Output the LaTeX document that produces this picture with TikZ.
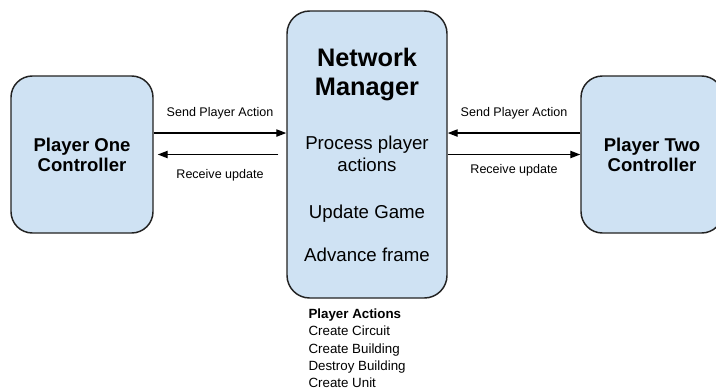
\documentclass[tikz,border=0pt]{standalone}
\usepackage{fontspec}
\setmainfont{Liberation Sans}
\usetikzlibrary{arrows.meta, positioning}
\definecolor{boxfill}{HTML}{CFE2F3}
\definecolor{edge}{HTML}{222222}

\begin{document}
\begin{tikzpicture}[x=0.75pt, y=-0.75pt]
  \tikzset{
    ctrl/.style={draw=edge, fill=boxfill, line width=1.1pt, rounded corners=16pt, minimum width=106.5pt, minimum height=117.75pt, inner sep=0pt, align=center, font=\fontsize{13.9}{15}\selectfont\bfseries},
    hub/.style={draw=edge, fill=boxfill, line width=1.1pt, rounded corners=17pt, minimum width=120pt, minimum height=215.25pt, inner sep=0pt},
    headtxt/.style={align=center, inner sep=0pt, font=\fontsize{19}{21.4}\selectfont\bfseries},
    mgrtxt/.style={align=center, inner sep=0pt, font=\fontsize{14}{16.5}\selectfont},
    lbl/.style={inner sep=0pt, font=\fontsize{9.4}{11}\selectfont},
    note/.style={align=left, inner sep=0pt, font=\fontsize{10}{12.9}\selectfont},
    flow/.style={draw=black, line width=1pt, -{Triangle[length=7.5pt, width=5.5pt]}}
  }
  \useasboundingbox (0,0) rectangle (716,389);
  \node[ctrl] (p1) at (82,154.5) {Player One\\Controller};
  \node[hub] (mgr) at (367,154.5) {};
  \node[ctrl] (p2) at (652,154.5) {Player Two\\Controller};
  % text inside the manager box
  \node[headtxt] (ttl) at (367,74.5) {Network\\Manager};
  \node[mgrtxt] (proc) at (367,154.3) {Process player\\actions};
  \node[mgrtxt] (upd) at (367,213.2) {Update Game};
  \node[mgrtxt] (adv) at (367,255.2) {Advance frame};
  % messages
  \draw[flow] ([yshift=16.1pt]p1.east) -- ([yshift=16.1pt]mgr.west)
    node[lbl, midway, above=10pt] {Send Player Action};
  \draw[flow, shorten <=6pt, shorten >=3pt] (mgr.west) -- (p1.east)
    node[lbl, midway, below=10.5pt] {Receive update};
  \draw[flow] ([yshift=16.1pt]p2.west) -- ([yshift=16.1pt]mgr.east)
    node[lbl, midway, above=10pt] {Send Player Action};
  \draw[flow] (mgr.east) -- (p2.west)
    node[lbl, midway, below=6.75pt] {Receive update};
  \node[note, below right=7.5pt and 16.5pt of mgr.south west] (acts) {\textbf{Player Actions}\\Create Circuit\\Create Building\\Destroy Building\\Create Unit};
\end{tikzpicture}
\end{document}
